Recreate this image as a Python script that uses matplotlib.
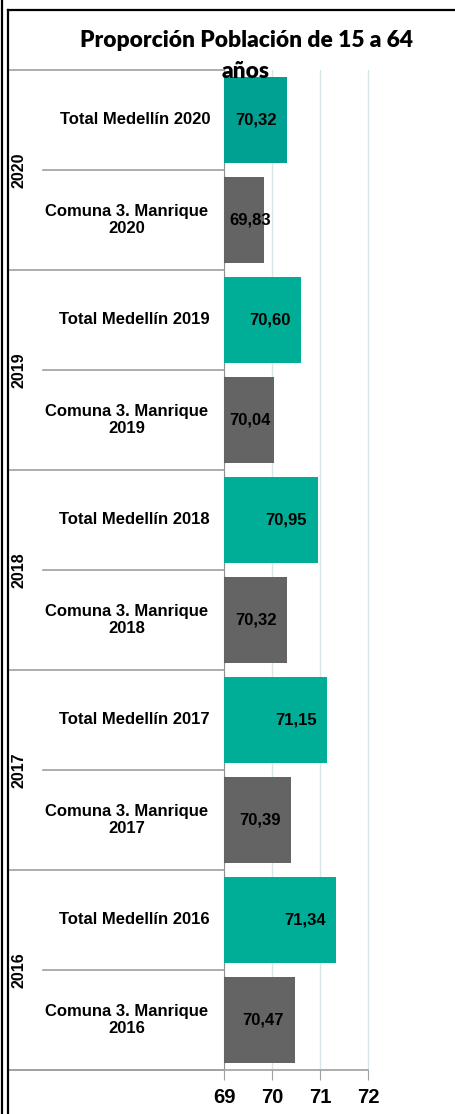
import matplotlib
matplotlib.use("Agg")
import matplotlib.pyplot as plt
from matplotlib.lines import Line2D
import matplotlib.transforms as mtransforms

years = ["2020", "2019", "2018", "2017", "2016"]
series_names = ["Total Medellín", "Comuna 3. Manrique"]
total_medellin = [70.32, 70.60, 70.95, 71.15, 71.34]
comuna_manrique = [69.83, 70.04, 70.32, 70.39, 70.47]
xticks = [69, 70, 71, 72]
title_lines = ["Proporción Población de 15 a 64", "años"]

FONT = ["Liberation Sans", "DejaVu Sans"]
W, H = 455, 1114
fig = plt.figure(figsize=(W / 100, H / 100), dpi=100)
fig.patch.set_facecolor("white")

ax_left, ax_right = 224 / W, 416 / W
ax_top, ax_bot = 1 - 70 / H, 1 - 1070 / H
ax = fig.add_axes([ax_left, ax_bot, ax_right - ax_left, ax_top - ax_bot])

labels, values, colors = [], [], []
for i, y in enumerate(years):
    labels.append(f"{series_names[0]} {y}")
    values.append(total_medellin[i])
    colors.append("#00A092" if i == 0 else "#00AE98")
    labels.append(f"{series_names[1]}\n{y}")
    values.append(comuna_manrique[i])
    colors.append("#646464")

n = len(values)
pos = list(range(n))
ax.barh(pos, [v - 69 for v in values], left=69, height=0.86, color=colors, zorder=3)
ax.set_ylim(n - 0.5, -0.5)
ax.set_xlim(69, 73)

ax.set_xticks(xticks)
ax.set_xticklabels([str(t) for t in xticks], fontsize=14.5, fontweight="bold",
                   family=FONT)
ax.tick_params(axis="x", length=7, color="#A0A0A0", pad=6)
ax.set_yticks([])
for s in ["top", "right"]:
    ax.spines[s].set_visible(False)
ax.spines["left"].set_color("#909090")
ax.spines["bottom"].set_visible(False)
ax.grid(axis="x", color="#D6E6E8", linewidth=1, zorder=0)

# value labels
for p, v in zip(pos, values):
    xl = max(v - 0.65, 69.55)
    ax.text(xl, p, f"{v:.2f}".replace(".", ","), ha="center", va="center",
            fontsize=12, fontweight="bold", family=FONT, zorder=4)

# category labels
trans = mtransforms.blended_transform_factory(fig.transFigure, ax.transData)
for p, lab in zip(pos, labels):
    if "\n" in lab:
        ax.text(127 / W, p, lab, transform=trans, ha="center", va="center",
                fontsize=12, fontweight="bold", family=FONT,
                multialignment="center", linespacing=1.1)
    else:
        ax.text(210 / W, p, lab, transform=trans, ha="right", va="center",
                fontsize=12, fontweight="bold", family=FONT)

# year labels
for i, y in enumerate(years):
    ax.text(19 / W, 2 * i + 0.5, y, transform=trans, rotation=90, ha="center",
            va="center", fontsize=11.5, fontweight="bold", family=FONT)

# category separator lines
line_col = "#A0A0A0"
for i in range(n + 1):
    yv = i - 0.5
    x0 = 8 / W if i % 2 == 0 else 43 / W
    fig.add_artist(Line2D([x0, ax_left], [yv, yv], transform=trans, color=line_col,
                          linewidth=1.2))
# bottom axis line
fig.add_artist(Line2D([8 / W, 368 / W], [1 - 1070 / H, 1 - 1070 / H],
                      transform=fig.transFigure, color="#A0A0A0", linewidth=1.2))

# outer frame
fig.add_artist(Line2D([7.5 / W, 1.0], [1 - 10 / H, 1 - 10 / H], transform=fig.transFigure,
                      color="black", linewidth=1.6))
fig.add_artist(Line2D([7.5 / W, 7.5 / W], [0, 1 - 10 / H], transform=fig.transFigure,
                      color="black", linewidth=1.6))
fig.add_artist(Line2D([2 / W, 2 / W], [0, 1], transform=fig.transFigure,
                      color="black", linewidth=1.6))

fig.text(246.5 / W, 1 - 47 / H, title_lines[0], ha="center", va="baseline", fontsize=16.4,
         fontweight="heavy", family="Lato")
fig.text(246 / W, 1 - 78 / H, title_lines[1], ha="center", va="baseline", fontsize=16.4,
         fontweight="heavy", family="Lato", zorder=5)

fig.savefig("out.png", dpi=100, facecolor="white")
